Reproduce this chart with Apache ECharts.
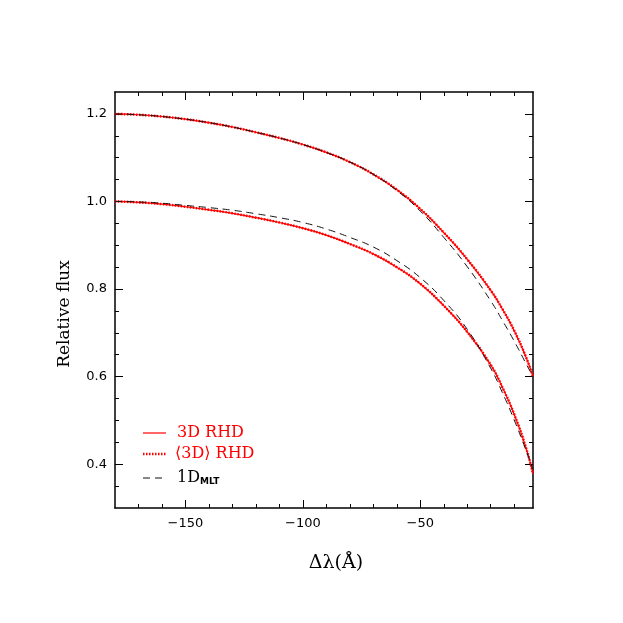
<!DOCTYPE html>
<html lang="en">

<head>
    <meta charset="UTF-8">
    <title>Relative flux</title>
    <style>
        html, body { margin: 0; padding: 0; background: #fff; }
        #chart { width: 623px; height: 623px; }
    </style>
</head>

<body>
    <div id="chart"></div>
</body>
<script src="https://cdn.jsdelivr.net/npm/echarts@6/dist/echarts.min.js"></script>

<script>
    // wavelength offsets (Angstrom)
    var dLambda = [-180, -170, -160, -150, -140, -130, -120, -110, -100, -90, -80, -70, -60, -50, -40, -30, -20, -15, -10, -5, -2]

    // upper profile (offset by +0.2)
    var rhd3dUpper = [1.200, 1.198, 1.194, 1.188, 1.180, 1.170, 1.158, 1.145, 1.130, 1.112, 1.090, 1.062, 1.027, 0.983, 0.929, 0.868, 0.797, 0.754, 0.705, 0.645, 0.600]
    var rhdMeanUpper = [1.200, 1.198, 1.194, 1.188, 1.180, 1.170, 1.158, 1.145, 1.130, 1.112, 1.090, 1.062, 1.027, 0.983, 0.929, 0.868, 0.797, 0.754, 0.705, 0.645, 0.600]
    var mltUpper = [1.200, 1.198, 1.194, 1.188, 1.180, 1.170, 1.158, 1.145, 1.130, 1.112, 1.090, 1.062, 1.025, 0.978, 0.918, 0.851, 0.773, 0.728, 0.681, 0.630, 0.600]

    // lower profile
    var rhd3dLower = [1.000, 0.998, 0.994, 0.988, 0.981, 0.973, 0.963, 0.952, 0.939, 0.923, 0.903, 0.880, 0.850, 0.812, 0.762, 0.702, 0.627, 0.575, 0.514, 0.438, 0.378]
    var rhdMeanLower = [1.000, 0.998, 0.994, 0.988, 0.981, 0.973, 0.963, 0.952, 0.939, 0.923, 0.903, 0.880, 0.850, 0.812, 0.762, 0.702, 0.627, 0.575, 0.514, 0.438, 0.378]
    var mltLower = [1.000, 0.999, 0.996, 0.991, 0.986, 0.980, 0.972, 0.963, 0.952, 0.937, 0.918, 0.896, 0.865, 0.826, 0.774, 0.708, 0.619, 0.563, 0.501, 0.432, 0.388]

    var xTicks = [-150, -100, -50]
    var xMinorTicks = [-170, -160, -140, -130, -120, -110, -90, -80, -70, -60, -40, -30, -20, -10]
    var yTicks = [0.4, 0.6, 0.8, 1.0, 1.2]
    var yMinorTicks = [0.35, 0.45, 0.5, 0.55, 0.65, 0.7, 0.75, 0.85, 0.9, 0.95, 1.05, 1.1, 1.15]

    function pairs(ys) {
        var out = []
        for (let i = 0; i < dLambda.length; i++) {
            out.push([dLambda[i], ys[i]])
        }
        return out
    }

    var axisLine = { show: true, onZero: false, lineStyle: { color: '#000', width: 1.5 } }
    var noLine = { show: false, onZero: false }

    function xAxisCfg(pos, ticks, len, labels) {
        return {
            type: 'value', position: pos, min: -180, max: -2,
            splitLine: { show: false },
            axisLine: len > 5 ? axisLine : noLine,
            axisTick: { show: true, inside: true, length: len, customValues: ticks, lineStyle: { color: '#000', width: 1 } },
            axisLabel: {
                show: labels, customValues: ticks, margin: 9,
                fontFamily: 'DejaVu Sans', fontSize: 13, color: '#000',
                formatter: function (v) { return v < 0 ? '\u2212' + Math.abs(v) : String(v) }
            }
        }
    }

    function yAxisCfg(pos, ticks, len, labels) {
        return {
            type: 'value', position: pos, min: 0.3, max: 1.25,
            splitLine: { show: false },
            axisLine: len > 5 ? axisLine : noLine,
            axisTick: { show: true, inside: true, length: len, customValues: ticks, lineStyle: { color: '#000', width: 1 } },
            axisLabel: {
                show: labels, customValues: ticks, margin: 8,
                fontFamily: 'DejaVu Sans', fontSize: 13, color: '#000',
                formatter: function (v) { return v.toFixed(1) }
            }
        }
    }

    var xMain = xAxisCfg('bottom', xTicks, 8, true)
    xMain.name = 'Δλ(Å)'
    xMain.nameLocation = 'middle'
    xMain.nameGap = 46
    xMain.nameTextStyle = { fontFamily: 'DejaVu Serif', fontSize: 19, color: '#000', padding: [0, 0, 0, 24] }

    var yMain = yAxisCfg('left', yTicks, 8, true)
    yMain.name = 'Relative flux'
    yMain.nameLocation = 'middle'
    yMain.nameGap = 42
    yMain.nameTextStyle = { fontFamily: 'DejaVu Serif', fontSize: 17, color: '#000', padding: [0, 28, 0, 0] }

    function lineSeries(name, ys, style) {
        return {
            name: name, type: 'line', data: pairs(ys),
            xAxisIndex: 0, yAxisIndex: 0,
            showSymbol: false, smooth: 0.5, silent: true,
            lineStyle: style, z: style.z || 2
        }
    }

    var solidRed = { color: '#ff0000', width: 1.2, type: 'solid' }
    var dotRed = { color: '#ff0000', width: 2.5, type: [1.5, 1.5], z: 3 }
    var dashBlack = { color: '#111', width: 1, type: [7, 5], z: 4 }

    var myChart = echarts.init(document.getElementById('chart'))

    var option = {
        animation: false,
        backgroundColor: '#fff',
        grid: { left: 115, right: 90, top: 92, bottom: 115, containLabel: false, outerBoundsMode: 'none' },
        xAxis: [
            xMain,
            xAxisCfg('bottom', xMinorTicks, 4, false),
            xAxisCfg('top', xTicks, 8, false),
            xAxisCfg('top', xMinorTicks, 4, false)
        ],
        yAxis: [
            yMain,
            yAxisCfg('left', yMinorTicks, 4, false),
            yAxisCfg('right', yTicks, 8, false),
            yAxisCfg('right', yMinorTicks, 4, false)
        ],
        series: [
            lineSeries('3D RHD', rhd3dUpper, solidRed),
            lineSeries('3D RHD', rhd3dLower, solidRed),
            lineSeries('⟨3D⟩ RHD', rhdMeanUpper, dotRed),
            lineSeries('⟨3D⟩ RHD', rhdMeanLower, dotRed),
            lineSeries('1D MLT', mltUpper, dashBlack),
            lineSeries('1D MLT', mltLower, dashBlack)
        ],
        // legend drawn by hand so the sample lines match the series styles
        graphic: [
            { type: 'line', shape: { x1: 143, y1: 433, x2: 166, y2: 433 }, style: { stroke: '#ff0000', lineWidth: 1.2 } },
            { type: 'text', x: 177, y: 433, style: { text: '3D RHD', fill: '#ff0000', font: '16px "DejaVu Serif"', verticalAlign: 'middle' } },
            { type: 'line', shape: { x1: 143, y1: 454, x2: 166, y2: 454 }, style: { stroke: '#ff0000', lineWidth: 2.5, lineDash: [1.5, 1.5] } },
            { type: 'text', x: 175, y: 454, style: { text: '⟨3D⟩ RHD', fill: '#ff0000', font: '16px "DejaVu Serif"', verticalAlign: 'middle' } },
            { type: 'line', shape: { x1: 143, y1: 478, x2: 166, y2: 478 }, style: { stroke: '#111', lineWidth: 1, lineDash: [7, 5] } },
            {
                type: 'text', x: 177, y: 478,
                style: {
                    text: '1D{sub|MLT}', fill: '#000', font: '16px "DejaVu Serif"', verticalAlign: 'middle',
                    rich: { sub: { fontFamily: 'DejaVu Sans', fontWeight: 'bold', fontSize: 9, padding: [8, 0, 0, 0], fill: '#000' } }
                }
            }
        ]
    }
    myChart.setOption(option)
</script>

</html>
